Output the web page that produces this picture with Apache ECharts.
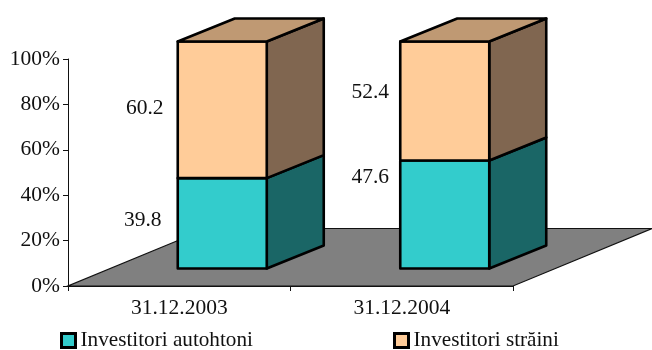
<!DOCTYPE html>
<html>
<head>
<meta charset="utf-8">
<style>html,body{margin:0;padding:0;background:#fff}#c{width:652px;height:350px}</style>
<script src="https://cdn.jsdelivr.net/npm/echarts@6/dist/echarts.min.js"></script>
</head>
<body>
<div id="c"></div>
<script>
var categories = ['31.12.2003', '31.12.2004'];
var investitoriAutohtoni = [39.8, 47.6];
var investitoriStraini = [60.2, 52.4];
var seriesNames = ['Investitori autohtoni', 'Investitori străini'];
var yTicks = [0, 20, 40, 60, 80, 100];

var FONT = '"Liberation Serif","Times New Roman",serif';
var FS = 21.5;
var LEGEND_FS = 21.2;
var BAR_SHIFT = [43, -17.5];   // front face position inside the floor depth
var DEPTH = [57, -23];         // bar depth
var FLOOR = [139, -57.5];      // floor depth
var BAR_W = 0.4;
// offset of each printed value from the middle of its segment (from the bar's left edge)
var labelAutoOffset = [[-35, -3], [-30, -37]];
var labelStrainOffset = [[-33, -1], [-30, -9]];

function pts(a) { return a.map(function (p) { return [p[0], p[1]]; }); }
function face(points, fill) {
  return { type: 'polygon', shape: { points: pts(points) },
    style: { fill: fill, stroke: '#000', lineWidth: 2.6, lineJoin: 'round' } };
}
function barRender(cols, withTop, offsets, baseFn) {
  return function (params, api) {
    var i = api.value(0), v = api.value(1), base = baseFn(i);
    var c0 = api.coord([i, base]), c1 = api.coord([i, base + v]);
    var w = api.size([1, 0])[0] * BAR_W;
    var x0 = c0[0] + BAR_SHIFT[0] - w / 2, x1 = x0 + w;
    var y0 = c0[1] + BAR_SHIFT[1], y1 = c1[1] + BAR_SHIFT[1];
    var dx = DEPTH[0], dy = DEPTH[1];
    var kids = [
      face([[x1, y0], [x1 + dx, y0 + dy], [x1 + dx, y1 + dy], [x1, y1]], cols.side),
      face([[x0, y0], [x1, y0], [x1, y1], [x0, y1]], cols.front)
    ];
    if (withTop) kids.push(face([[x0, y1], [x0 + dx, y1 + dy], [x1 + dx, y1 + dy], [x1, y1]], cols.top));
    var off = offsets[i];
    kids.push({ type: 'text', style: {
      text: String(v), x: x0 + off[0], y: (y0 + y1) / 2 + off[1],
      align: 'center', verticalAlign: 'middle', fill: '#111', font: FS + 'px ' + FONT } });
    return { type: 'group', children: kids };
  };
}
function floorRender(params, api) {
  var a = api.coord([0, 0]), half = api.size([1, 0])[0] / 2;
  var l = a[0] - half, r = l + half * 2 * categories.length, y = a[1];
  return { type: 'polygon', shape: { points: [[l, y], [r, y], [r + FLOOR[0], y + FLOOR[1]], [l + FLOOR[0], y + FLOOR[1]]] },
    style: { fill: '#808080', stroke: '#111', lineWidth: 1.2 } };
}

var chart = echarts.init(document.getElementById('c'), null, { renderer: 'canvas' });
chart.setOption({
  animation: false,
  backgroundColor: '#fff',
  grid: { left: 68, right: 139, top: 59, bottom: 64, containLabel: false },
  xAxis: { type: 'category', data: categories,
    axisLine: { lineStyle: { color: '#111', width: 1.2 } },
    axisTick: { show: true, length: 5, lineStyle: { color: '#111', width: 1 } },
    axisLabel: { color: '#111', fontFamily: FONT, fontSize: FS, margin: 11 } },
  yAxis: { type: 'value', min: yTicks[0], max: yTicks[yTicks.length - 1], interval: 20,
    splitLine: { show: false },
    axisLine: { show: true, lineStyle: { color: '#111', width: 1 } },
    axisTick: { show: true, length: 5, lineStyle: { color: '#111', width: 1 } },
    axisLabel: { color: '#111', fontFamily: FONT, fontSize: FS, margin: 8, formatter: '{value}%' } },
  legend: [
    { left: 60, top: 330, padding: 0, icon: 'rect', itemWidth: 14, itemHeight: 14, itemGap: 0, data: [seriesNames[0]],
      itemStyle: { borderColor: '#000', borderWidth: 3 },
      textStyle: { fontFamily: FONT, fontSize: LEGEND_FS, color: '#111' } },
    { left: 393, top: 330, padding: 0, icon: 'rect', itemWidth: 14, itemHeight: 14, itemGap: 0, data: [seriesNames[1]],
      itemStyle: { borderColor: '#000', borderWidth: 3 },
      textStyle: { fontFamily: FONT, fontSize: LEGEND_FS, color: '#111' } }
  ],
  series: [
    { type: 'custom', name: 'floor', silent: true, clip: false, z: 1,
      encode: { x: 0, y: 1 }, data: [[0, 0]], renderItem: floorRender },
    { type: 'custom', name: seriesNames[0], clip: false, z: 3,
      itemStyle: { color: '#33CCCC', borderColor: '#000', borderWidth: 2.4 },
      encode: { x: 0, y: 1 },
      data: investitoriAutohtoni.map(function (v, i) { return [i, v]; }),
      renderItem: barRender({ front: '#33CCCC', side: '#1A6666' }, false, labelAutoOffset,
        function () { return 0; }) },
    { type: 'custom', name: seriesNames[1], clip: false, z: 4,
      itemStyle: { color: '#FFCC99', borderColor: '#000', borderWidth: 2.4 },
      encode: { x: 0, y: 1 },
      data: investitoriStraini.map(function (v, i) { return [i, v]; }),
      renderItem: barRender({ front: '#FFCC99', side: '#806650', top: '#BF9973' }, true, labelStrainOffset,
        function (i) { return investitoriAutohtoni[i]; }) }
  ]
});
</script>
</body>
</html>
